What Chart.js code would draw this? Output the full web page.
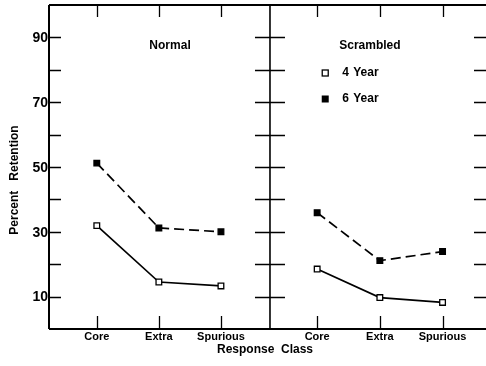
<!DOCTYPE html>
<html><head><meta charset="utf-8">
<script src="https://cdn.jsdelivr.net/npm/chart.js@4"></script>
<style>html,body{margin:0;padding:0;background:#fff}canvas{display:block}</style>
</head><body>
<canvas id="c" width="486" height="366"></canvas>
<script>
const categories = ['Core', 'Extra', 'Spurious'];
const panelTitles = ['Normal', 'Scrambled'];
const seriesNames = ['4 Year', '6 Year'];
const normal4 = [31.9, 14.5, 13.3];
const normal6 = [51.2, 31.2, 30.0];
const scrambled4 = [18.5, 9.7, 8.2];
const scrambled6 = [35.9, 21.1, 23.9];
const yTickLabels = [10, 30, 50, 70, 90];
const yMinorTicks = [10, 20, 30, 40, 50, 60, 70, 80, 90];
const normalX = [1, 2, 3];
const scrambledX = [4.55, 5.56, 6.57];
const dividerX = 3.79;

const FONT = '"Liberation Sans", Arial, sans-serif';

function pts(xs, ys) { return xs.map((x, i) => ({x: x, y: ys[i]})); }

const allX = normalX.concat(scrambledX);
const allLabels = categories.concat(categories);

const base = {
  borderColor: '#000', borderWidth: 1.7, pointStyle: 'rect', pointRadius: 4,
  pointBorderColor: '#000', pointBorderWidth: 1.3, tension: 0, fill: false
};

const axesPlugin = {
  id: 'axesPlugin',
  afterDatasetsDraw(chart) {
    const ctx = chart.ctx, a = chart.chartArea;
    const xs = chart.scales.x, ys = chart.scales.y;
    ctx.save();
    ctx.strokeStyle = '#000';
    ctx.lineCap = 'butt';
    // frame
    ctx.lineWidth = 2;
    ctx.beginPath();
    ctx.moveTo(a.left, a.top); ctx.lineTo(a.right, a.top);
    ctx.moveTo(a.left, a.bottom); ctx.lineTo(a.right, a.bottom);
    ctx.moveTo(a.left, a.top); ctx.lineTo(a.left, a.bottom);
    ctx.stroke();
    // divider
    const dx = xs.getPixelForValue(dividerX);
    ctx.lineWidth = 1.6;
    ctx.beginPath(); ctx.moveTo(dx, a.top); ctx.lineTo(dx, a.bottom); ctx.stroke();
    // y ticks
    ctx.lineWidth = 1.3;
    ctx.beginPath();
    yMinorTicks.forEach(v => {
      const y = Math.round(ys.getPixelForValue(v)) + 0.5;
      ctx.moveTo(a.left, y); ctx.lineTo(a.left + 12, y);
      ctx.moveTo(dx - 15, y); ctx.lineTo(dx + 15, y);
      ctx.moveTo(a.right, y); ctx.lineTo(a.right - 12, y);
    });
    // x ticks
    allX.forEach(v => {
      const x = Math.round(xs.getPixelForValue(v)) + 0.5;
      ctx.moveTo(x, a.bottom); ctx.lineTo(x, a.bottom - 13);
      ctx.moveTo(x, a.top); ctx.lineTo(x, a.top + 12);
    });
    ctx.stroke();

    ctx.fillStyle = '#000';
    ctx.textBaseline = 'middle';
    // y tick labels
    ctx.font = 'bold 14px ' + FONT;
    ctx.textAlign = 'right';
    yTickLabels.forEach(v => ctx.fillText(String(v), a.left - 1, ys.getPixelForValue(v) + 1));
    // x tick labels
    ctx.font = 'bold 11px ' + FONT;
    ctx.textAlign = 'center';
    allX.forEach((v, i) => ctx.fillText(allLabels[i], xs.getPixelForValue(v), 337));

    // panel titles
    ctx.font = 'bold 12px ' + FONT;
    ctx.fillText(panelTitles[0], xs.getPixelForValue(2.18), 46);
    ctx.fillText(panelTitles[1], xs.getPixelForValue(5.4), 46);
    // legend
    const lx = xs.getPixelForValue(4.68);
    const ly = [73, 99];
    ctx.textAlign = 'left';
    ctx.lineWidth = 1.3;
    ctx.strokeRect(lx - 3, ly[0] - 3, 6, 6);
    ctx.fillRect(lx - 3.5, ly[1] - 3.5, 7, 7);
    const parts0 = seriesNames[0].split(' '), parts1 = seriesNames[1].split(' ');
    ctx.fillText(parts0[0], lx + 17, ly[0]);
    ctx.fillText(parts0[1], lx + 28, ly[0]);
    ctx.fillText(parts1[0], lx + 17, ly[1]);
    ctx.fillText(parts1[1], lx + 28, ly[1]);
    // axis titles
    ctx.textAlign = 'center';
    ctx.fillText('Response  Class', 265, 350);
    ctx.save();
    ctx.translate(15, 180);
    ctx.rotate(-Math.PI / 2);
    ctx.fillText('Percent   Retention', 0, 0);
    ctx.restore();
    ctx.restore();
  }
};

new Chart(document.getElementById('c'), {
  type: 'line',
  data: {
    datasets: [
      Object.assign({label: seriesNames[0] + ' Normal', data: pts(normalX, normal4), pointBackgroundColor: '#fff'}, base),
      Object.assign({label: seriesNames[1] + ' Normal', data: pts(normalX, normal6), pointBackgroundColor: '#000', borderDash: [10, 5]}, base),
      Object.assign({label: seriesNames[0] + ' Scrambled', data: pts(scrambledX, scrambled4), pointBackgroundColor: '#fff'}, base),
      Object.assign({label: seriesNames[1] + ' Scrambled', data: pts(scrambledX, scrambled6), pointBackgroundColor: '#000', borderDash: [10, 5]}, base)
    ]
  },
  options: {
    responsive: false,
    animation: false,
    devicePixelRatio: 1,
    layout: {autoPadding: false, padding: {top: 5, right: 0, left: 49, bottom: 37}},
    plugins: {legend: {display: false}, tooltip: {enabled: false}},
    scales: {
      x: { type: 'linear', min: 0.23, max: 7.27, display: false },
      y: { type: 'linear', min: 0, max: 100, display: false }
    }
  },
  plugins: [axesPlugin]
});
</script>
</body></html>
